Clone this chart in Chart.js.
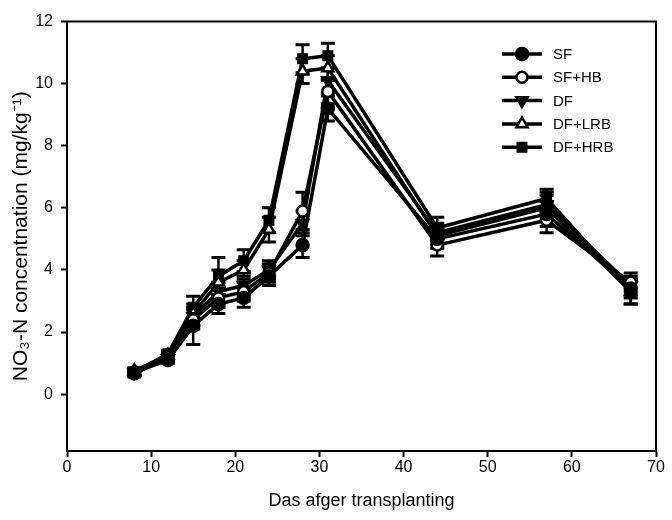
<!DOCTYPE html>
<html><head><meta charset="utf-8">
<script src="https://cdn.jsdelivr.net/npm/chart.js@4/dist/chart.umd.min.js"></script>
<style>html,body{margin:0;padding:0;background:#fff;}canvas{display:block;}</style>
</head><body>
<canvas id="c" width="672" height="520"></canvas>
<script>
const days = [8, 12, 15, 18, 21, 24, 28, 31, 44, 57, 67];
const seriesNames = ['SF', 'SF+HB', 'DF', 'DF+LRB', 'DF+HRB'];
const SF     = [0.70, 1.10, 2.20, 2.90, 3.10, 3.80, 4.80, 9.20, 5.00, 5.80, 3.40];
const SF_HB  = [0.65, 1.20, 2.40, 3.10, 3.30, 3.90, 5.90, 9.75, 4.80, 5.60, 3.60];
const DF     = [0.70, 1.15, 2.50, 3.30, 3.50, 4.00, 5.50, 10.10, 5.20, 6.10, 3.50];
const DF_LRB = [0.75, 1.25, 2.60, 3.60, 4.00, 5.30, 10.40, 10.50, 5.10, 6.00, 3.30];
const DF_HRB = [0.70, 1.30, 2.80, 3.80, 4.30, 5.60, 10.80, 10.90, 5.35, 6.30, 3.30];
const SF_err     = [0.10, 0.10, 0.60, 0.30, 0.30, 0.30, 0.40, 0.40, 0.30, 0.40, 0.30];
const SF_HB_err  = [0.10, 0.10, 0.30, 0.30, 0.30, 0.30, 0.60, 0.40, 0.35, 0.40, 0.30];
const DF_err     = [0.10, 0.10, 0.30, 0.30, 0.30, 0.30, 0.40, 0.40, 0.30, 0.40, 0.30];
const DF_LRB_err = [0.10, 0.10, 0.30, 0.40, 0.30, 0.40, 0.40, 0.40, 0.30, 0.40, 0.40];
const DF_HRB_err = [0.10, 0.10, 0.35, 0.60, 0.35, 0.40, 0.45, 0.40, 0.35, 0.30, 0.40];
const yTicks = [0, 2, 4, 6, 8, 10, 12];
const xTicks = [0, 10, 20, 30, 40, 50, 60, 70];

const values = [SF, SF_HB, DF, DF_LRB, DF_HRB];
const errors = [SF_err, SF_HB_err, DF_err, DF_LRB_err, DF_HRB_err];
const styles = [
  {pointStyle:'circle', fill:'#000', rot:0, r:6},
  {pointStyle:'circle', fill:'#fff', rot:0, r:5.5},
  {pointStyle:'triangle', fill:'#000', rot:180, r:6.5},
  {pointStyle:'triangle', fill:'#fff', rot:0, r:6.5},
  {pointStyle:'rect', fill:'#000', rot:0, r:6}
];
const FONT = '"Liberation Sans", Arial, sans-serif';

const datasets = seriesNames.map((n, i) => ({
  label: n,
  data: days.map((d, j) => ({x: d, y: values[i][j], e: errors[i][j]})),
  borderColor: '#000',
  borderWidth: 3.5,
  pointStyle: styles[i].pointStyle,
  pointRotation: styles[i].rot,
  pointRadius: styles[i].r,
  pointBackgroundColor: styles[i].fill,
  pointBorderColor: '#000',
  pointBorderWidth: 2.5,
  tension: 0,
  fill: false
}));

const errorBars = {
  id: 'errorBars',
  beforeDatasetsDraw(chart) {
    const ctx = chart.ctx, xs = chart.scales.x, ys = chart.scales.y;
    ctx.save();
    ctx.strokeStyle = '#000';
    chart.data.datasets.forEach(ds => {
      ds.data.forEach(p => {
        const x = xs.getPixelForValue(p.x);
        const yt = ys.getPixelForValue(p.y + p.e);
        const yb = ys.getPixelForValue(p.y - p.e);
        ctx.lineWidth = 2.5;
        ctx.beginPath();
        ctx.moveTo(x, yt); ctx.lineTo(x, yb);
        ctx.stroke();
        ctx.lineWidth = 3;
        ctx.beginPath();
        ctx.moveTo(x - 7, yt); ctx.lineTo(x + 7, yt);
        ctx.moveTo(x - 7, yb); ctx.lineTo(x + 7, yb);
        ctx.stroke();
      });
    });
    ctx.restore();
  }
};

const frameAndLegend = {
  id: 'frameAndLegend',
  afterDraw(chart) {
    const ctx = chart.ctx, a = chart.chartArea;
    ctx.save();
    ctx.strokeStyle = '#000';
    ctx.lineWidth = 2;
    ctx.strokeRect(a.left, a.top, a.right - a.left, a.bottom - a.top);
    // legend
    const x0 = 502, x1 = 542, tx = 553, y0 = 54, dy = 23.3;
    ctx.font = '15px ' + FONT;
    ctx.textBaseline = 'middle';
    chart.data.datasets.forEach((ds, i) => {
      const y = y0 + i * dy;
      ctx.lineWidth = 3.5;
      ctx.strokeStyle = '#000';
      ctx.beginPath(); ctx.moveTo(x0, y); ctx.lineTo(x1, y); ctx.stroke();
      ctx.fillStyle = styles[i].fill;
      ctx.lineWidth = 2.5;
      Chart.helpers.drawPoint(ctx, {pointStyle: styles[i].pointStyle, rotation: styles[i].rot, radius: styles[i].r, borderWidth: 2.5}, (x0 + x1) / 2, y);
      ctx.fillStyle = '#000';
      ctx.fillText(ds.label, tx, y + 1);
    });
    ctx.restore();
  }
};

new Chart(document.getElementById('c'), {
  type: 'line',
  data: {datasets},
  options: {
    responsive: false,
    animation: false,
    layout: {padding: {left: 0, top: 21.5, right: 16, bottom: 0}},
    plugins: {legend: {display: false}, tooltip: {enabled: false}},
    scales: {
      x: {
        type: 'linear', min: 0, max: 70,
        afterBuildTicks: s => { s.ticks = xTicks.map(v => ({value: v})); },
        afterFit: s => { s.paddingLeft = 0; s.paddingRight = 0; s.height = 69; },
        ticks: {color: '#000', font: {size: 16, family: FONT}, padding: 1, maxRotation: 0},
        grid: {display: true, drawOnChartArea: false, drawTicks: true, tickLength: 6, tickWidth: 2, color: '#000'},
        border: {display: true, color: '#000', width: 2},
        title: {display: true, text: 'Das afger transplanting', color: '#000', font: {size: 18, family: FONT}, padding: {top: 4, bottom: 8}}
      },
      y: {
        type: 'linear', min: -1.83, max: 12,
        afterBuildTicks: s => { s.ticks = yTicks.map(v => ({value: v})); },
        afterFit: s => { s.width = 67; s.paddingTop = 0; s.paddingBottom = 0; },
        ticks: {color: '#000', font: {size: 16, family: FONT}, padding: 8},
        grid: {display: true, drawOnChartArea: false, drawTicks: true, tickLength: 6, tickWidth: 2, color: '#000'},
        border: {display: true, color: '#000', width: 2},
        title: {display: true, text: 'NO\u2083-N concentnation (mg/kg\u207B\u00B9)', color: '#000', font: {size: 21, family: FONT}, padding: {top: 9, bottom: 2}}
      }
    }
  },
  plugins: [errorBars, frameAndLegend]
});
</script>
</body></html>
